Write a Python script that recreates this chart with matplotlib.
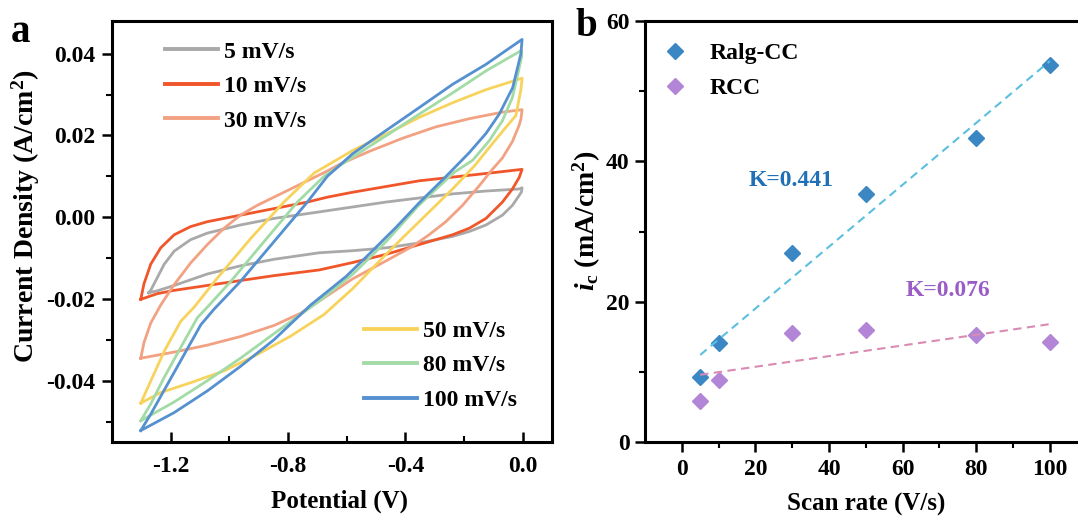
import numpy as np
import matplotlib.pyplot as plt

plt.rcParams['font.family'] = ['Liberation Serif', 'DejaVu Serif']
plt.rcParams['font.weight'] = 'bold'
plt.rcParams['axes.labelweight'] = 'bold'
plt.rcParams['font.size'] = 17
plt.rcParams['axes.unicode_minus'] = False
plt.rcParams['mathtext.fontset'] = 'custom'
plt.rcParams['mathtext.rm'] = 'Liberation Serif:bold'
plt.rcParams['mathtext.it'] = 'Liberation Serif:italic:bold'
plt.rcParams['mathtext.bf'] = 'Liberation Serif:bold'

# ---- panel a: CV loops (V, A/cm2) ----
labels_a = ['5 mV/s', '10 mV/s', '30 mV/s', '50 mV/s', '80 mV/s', '100 mV/s']
colors_a = ['#a9a9a9', '#f0562a', '#f2a283', '#f8d35c', '#a3dba6', '#5590d0']

v5 = [-1.275, -1.268, -1.245, -1.222, -1.188, -1.132, -1.075, -0.962, -0.848, -0.693, -0.580,
      -0.466, -0.353, -0.239, -0.125, -0.012, -0.002,
      -0.004, -0.012, -0.035, -0.069, -0.125, -0.182, -0.239, -0.353, -0.466, -0.580, -0.693,
      -0.848, -0.962, -1.075, -1.188, -1.245, -1.275]
i5 = [-0.0185, -0.0179, -0.0147, -0.0115, -0.0083, -0.0055, -0.0039, -0.0019, -0.0003, 0.0013, 0.0025,
      0.0037, 0.0047, 0.0057, 0.0064, 0.0069, 0.0072,
      0.0062, 0.0053, 0.0029, 0.0005, -0.0019, -0.0035, -0.0047, -0.0063, -0.0075, -0.0082, -0.0087,
      -0.0103, -0.0119, -0.0139, -0.0167, -0.0180, -0.0185]

v10 = [-1.302, -1.291, -1.268, -1.234, -1.188, -1.132, -1.075, -0.962, -0.848, -0.734, -0.666, -0.580,
       -0.466, -0.353, -0.239, -0.125, -0.002,
       -0.012, -0.035, -0.069, -0.125, -0.182, -0.239, -0.353, -0.466, -0.580, -0.693, -0.848,
       -0.962, -1.075, -1.188, -1.245, -1.302]
i10 = [-0.0201, -0.0163, -0.0115, -0.0075, -0.0043, -0.0023, -0.0011, 0.0005, 0.0021, 0.0037, 0.0049, 0.0061,
       0.0075, 0.0089, 0.0098, 0.0107, 0.0117,
       0.0097, 0.0069, 0.0037, -0.0003, -0.0027, -0.0043, -0.0067, -0.0091, -0.0111, -0.0129, -0.0143,
       -0.0155, -0.0167, -0.0179, -0.0187, -0.0201]

v30 = [-1.302, -1.291, -1.268, -1.234, -1.188, -1.132, -1.075, -1.018, -0.962, -0.905, -0.848, -0.791,
       -0.734, -0.666, -0.625, -0.523, -0.410, -0.296, -0.182, -0.069, -0.002,
       -0.006, -0.012, -0.035, -0.069, -0.108, -0.148, -0.205, -0.262, -0.319, -0.375, -0.466, -0.580,
       -0.693, -0.757, -0.848, -0.962, -1.075, -1.188, -1.302]
i30 = [-0.0345, -0.0307, -0.0259, -0.0215, -0.0165, -0.0112, -0.0067, -0.0027, 0.0005, 0.0029, 0.0049, 0.0069,
       0.0089, 0.0113, 0.0129, 0.0161, 0.0193, 0.0221, 0.0241, 0.0257, 0.0263,
       0.0240, 0.0225, 0.0185, 0.0145, 0.0113, 0.0077, 0.0029, -0.0011, -0.0043, -0.0071, -0.0107, -0.0151,
       -0.0205, -0.0235, -0.0265, -0.0292, -0.0313, -0.0330, -0.0345]

v50 = [-1.302, -1.268, -1.222, -1.166, -1.120, -1.041, -0.927, -0.814, -0.711, -0.580, -0.466, -0.353,
       -0.239, -0.125, -0.002,
       -0.006, -0.023, -0.057, -0.103, -0.165, -0.239, -0.296, -0.353, -0.410, -0.466, -0.580, -0.677,
       -0.791, -0.905, -1.018, -1.132, -1.234, -1.302]
i50 = [-0.0455, -0.0401, -0.0328, -0.0255, -0.0220, -0.0149, -0.0052, 0.0037, 0.0108, 0.0163, 0.0203, 0.0244,
       0.0280, 0.0312, 0.0340,
       0.0312, 0.0249, 0.0220, 0.0180, 0.0125, 0.0069, 0.0029, -0.0011, -0.0051, -0.0091, -0.0175, -0.0238,
       -0.0291, -0.0336, -0.0376, -0.0405, -0.0429, -0.0455]

v80 = [-1.302, -1.268, -1.222, -1.166, -1.109, -1.075, -0.995, -0.882, -0.768, -0.677, -0.580, -0.466,
       -0.353, -0.239, -0.125, -0.004,
       -0.003, -0.014, -0.035, -0.069, -0.114, -0.171, -0.233, -0.353, -0.466, -0.580, -0.693, -0.848,
       -0.962, -1.075, -1.188, -1.302]
i80 = [-0.0498, -0.0457, -0.0392, -0.0319, -0.0246, -0.0220, -0.0157, -0.0060, 0.0037, 0.0100, 0.0147, 0.0199,
       0.0252, 0.0304, 0.0358, 0.0408,
       0.0395, 0.0358, 0.0293, 0.0236, 0.0187, 0.0139, 0.0110, 0.0030, -0.0060, -0.0140, -0.0205, -0.0285,
       -0.0345, -0.0400, -0.0452, -0.0498]

v100 = [-1.302, -1.268, -1.211, -1.154, -1.097, -1.052, -0.962, -0.848, -0.734, -0.666, -0.580, -0.466,
        -0.353, -0.239, -0.125, -0.002,
        -0.006, -0.034, -0.080, -0.125, -0.182, -0.261, -0.353, -0.432, -0.523, -0.602, -0.723, -0.848,
        -0.962, -1.075, -1.188, -1.302]
i100 = [-0.0522, -0.0482, -0.0409, -0.0336, -0.0263, -0.0225, -0.0157, -0.0060, 0.0037, 0.0100, 0.0155, 0.0212,
        0.0268, 0.0325, 0.0374, 0.0435,
        0.0400, 0.0317, 0.0252, 0.0205, 0.0158, 0.0100, 0.0035, -0.0025, -0.0090, -0.0145, -0.0215, -0.0300,
        -0.0365, -0.0425, -0.0478, -0.0522]

loops_v = [v5, v10, v30, v50, v80, v100]
loops_i = [i5, i10, i30, i50, i80, i100]

# ---- panel b: cathodic current vs scan rate ----
scan_rate = [5, 10, 30, 50, 80, 100]
ic_ralg = [9.3, 14.1, 26.9, 35.3, 43.3, 53.7]
ic_rcc = [5.8, 8.9, 15.6, 16.0, 15.3, 14.3]
k_ralg, b_ralg = 0.441, 10.2
k_rcc, b_rcc = 0.076, 9.2

fig = plt.figure(figsize=(10.78, 5.26), dpi=100)
ax1 = fig.add_axes([112/1078, 84/526, 440/1078, 421/526])
ax2 = fig.add_axes([645/1078, 84/526, 441.7/1078, 421/526])

lines = []
for v, i, c, lab in zip(loops_v, loops_i, colors_a, labels_a):
    ln, = ax1.plot(v, i, color=c, lw=2.0, label=lab, solid_joinstyle='round')
    lines.append(ln)

ax1.set_xlim(-1.4, 0.1)
ax1.set_ylim(-0.055, 0.048)
ax1.set_xticks([-1.2, -0.8, -0.4, 0.0])
ax1.set_xticks([-1.0, -0.6, -0.2], minor=True)
ax1.set_yticks([-0.04, -0.02, 0.0, 0.02, 0.04])
ax1.set_yticks([-0.05, -0.03, -0.01, 0.01, 0.03], minor=True)
ax1.set_xticklabels(['-1.2', '-0.8', '-0.4', '0.0'])
ax1.set_yticklabels(['-0.04', '-0.02', '0.00', '0.02', '0.04'])
ax1.tick_params(axis='x', which='major', direction='in', length=7, width=1.8, pad=10)
ax1.tick_params(axis='x', which='minor', direction='in', length=4, width=1.5)
ax1.tick_params(axis='y', which='major', direction='out', length=7, width=1.8, pad=5)
ax1.tick_params(axis='y', which='minor', direction='out', length=4, width=1.5)
ax1.set_xlabel('Potential (V)', fontsize=18)
ax1.set_ylabel('Current Density (A/cm$^{2}$)', fontsize=20)
ax1.xaxis.set_label_coords(0.517, -0.113)
ax1.yaxis.set_label_coords(-0.16, 0.537)

leg_kw = dict(loc='upper left', frameon=False, handlelength=2.25, handletextpad=0.25,
              labelspacing=0.55, borderpad=0, borderaxespad=0, fontsize=17)
leg1 = ax1.legend(handles=lines[:3], bbox_to_anchor=(0.12, 0.952), **leg_kw)
ax1.add_artist(leg1)
leg2 = ax1.legend(handles=lines[3:], bbox_to_anchor=(0.573, 0.289), **leg_kw)
for lg in (leg1, leg2):
    for hl in lg.get_lines():
        hl.set_linewidth(2.8)

ax2.plot(scan_rate, ic_ralg, 'D', color='#3b87c4', ms=8.5, label='Ralg-CC')
ax2.plot(scan_rate, ic_rcc, 'D', color='#b285d6', ms=8.5, label='RCC')
xs = np.array([scan_rate[0], scan_rate[-1]])
ax2.plot(xs, k_ralg * xs + b_ralg, '--', color='#5bbfe0', lw=1.5, dashes=(4, 2.6))
ax2.plot(xs, k_rcc * xs + b_rcc, '--', color='#d98bb3', lw=1.5, dashes=(4, 2.6))
ax2.text(29.7, 37.3, 'K=%.3f' % k_ralg, color='#1f70b6', ha='center', va='center', fontsize=17)
ax2.text(72.3, 21.6, 'K=%.3f' % k_rcc, color='#9a5cc6', ha='center', va='center', fontsize=17)

ax2.set_xlim(-10, 110)
ax2.set_ylim(0, 60)
ax2.set_xticks([0, 20, 40, 60, 80, 100])
ax2.set_xticks([10, 30, 50, 70, 90], minor=True)
ax2.set_yticks([0, 20, 40, 60])
ax2.set_yticks([10, 30, 50], minor=True)
ax2.tick_params(which='major', direction='out', length=7, width=1.8)
ax2.tick_params(which='minor', direction='out', length=4, width=1.5)
ax2.tick_params(axis='x', pad=5)
ax2.tick_params(axis='y', pad=4)
ax2.set_xlabel('Scan rate (V/s)', fontsize=18)
ax2.set_ylabel('$i_{\\mathrm{c}}$ (mA/cm$^{2}$)', fontsize=20)
ax2.xaxis.set_label_coords(0.501, -0.12)
ax2.yaxis.set_label_coords(-0.095, 0.525)
ax2.legend(loc='upper left', bbox_to_anchor=(0.042, 0.948), frameon=False, numpoints=1,
           handlelength=1.0, handletextpad=0.95, labelspacing=0.55, borderpad=0, borderaxespad=0,
           fontsize=17)

for ax in (ax1, ax2):
    for sp in ax.spines.values():
        sp.set_linewidth(2.2)

fig.text(20/1078, 1 - 32/526, 'a', fontsize=28, fontweight='bold', ha='center', va='center')
fig.text(586/1078, 1 - 26/526, 'b', fontsize=28, fontweight='bold', ha='center', va='center')

fig.savefig('out.png', dpi=100)
